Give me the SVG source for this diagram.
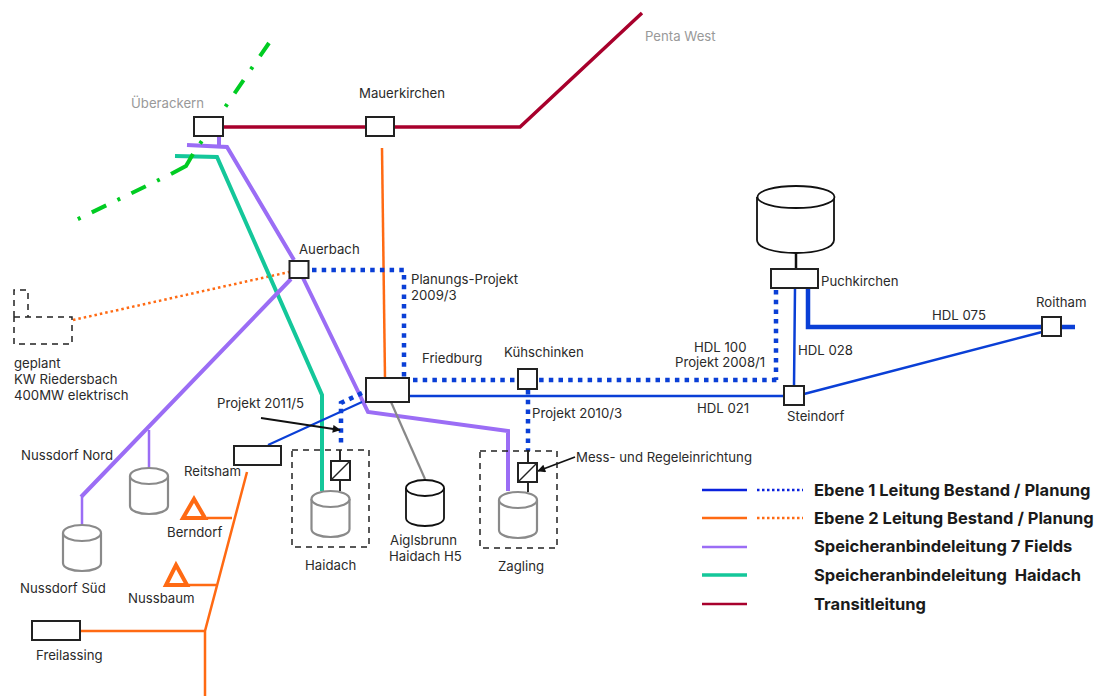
<svg xmlns="http://www.w3.org/2000/svg" width="1097" height="696" viewBox="0 0 1097 696">
<defs>
<style>
text{font-family:Inter,"Liberation Sans",sans-serif;font-size:13.2px;fill:#2a2a2a}
.g{fill:#999}
.leg{font-weight:700;font-size:16.5px;fill:#1a1a1a;white-space:pre}
.box{fill:#fff;stroke:#222;stroke-width:2}
.l{fill:none;stroke-linejoin:miter}
.dash{fill:none;stroke:#222;stroke-width:1.5;stroke-dasharray:6 5}
.blue{stroke:#0a3fd6}
.dot{stroke:#0a3fd6;stroke-width:4.5;stroke-dasharray:4.5 5.2;fill:none}
.org{stroke:#ff6a13}
.pur{stroke:#9b6df5}
.tea{stroke:#14c79a}
.red{stroke:#a8002c}
.cylg{fill:#fff;stroke:#8a8a8a;stroke-width:2.2}
.cylb{fill:#fff;stroke:#111;stroke-width:1.8}
.tri{fill:none;stroke:#ff6a13;stroke-width:4}
.grn{fill:none;stroke:#00cc22;stroke-width:4}
</style>
<marker id="arr" viewBox="0 0 10 10" refX="9" refY="5" markerWidth="10" markerHeight="8" markerUnits="userSpaceOnUse" orient="auto"><path d="M0 0L10 5L0 10z" fill="#111"/></marker>
<g id="cyl"><path d="M-19 8V38C-19 43-10 46 0 46S19 43 19 38V8"/><ellipse cx="0" cy="8" rx="19" ry="8"/></g>
<g id="valve"><rect x="0" y="0" width="19" height="19" fill="#fff" stroke="#222" stroke-width="2"/><path d="M0 19L19 0" stroke="#222" stroke-width="1.5"/></g>
</defs>
<rect width="1097" height="696" fill="#fff"/>
<g id="connectors">
<path class="l red" stroke-width="3.5" d="M224 127H520L642 13"/>
<path class="l org" stroke-width="2.5" d="M382 148L385 378"/>
<path class="dot" d="M312 270H404V378"/>
<path class="l org" stroke-width="2.5" stroke-dasharray="2.5 3" d="M73 320L289 272"/>
<path class="l tea" stroke-width="4" d="M175 156L217 157L322 395V491"/>
<path class="l pur" stroke-width="4" d="M187 145L227 147L294 260M303 278L368 412L508 431V491M219 137V146M291 279L81 497"/>
<path class="l pur" stroke-width="2.5" d="M149 430V470M82 497V525"/>
<path class="grn" stroke-dasharray="16 13 3 13" d="M269 43L193 154"/>
<path class="grn" d="M193 154L186 166L171 174"/>
<path class="grn" stroke-dasharray="16 12.500 3 12.500" stroke-dashoffset="16" d="M171 174L76 220"/>
<path class="l blue" stroke-width="2.500" d="M410 396H784M804 394L1042 332M795 288L794 386"/>
<path class="l blue" stroke-width="2" d="M268 445L362 402"/>
<path class="l blue" stroke-width="4.5" d="M808 289V327H1075"/>
<path class="dot" d="M413 380H778M776 290V380M528 390V451M362 393L341 403V447"/>
<path class="l" stroke="#888" stroke-width="2.2" d="M391 402L425 479"/>
<path class="l org" stroke-width="2.5" d="M247 472L205 631V696M81 631H205M207 518H232M188 585H217"/>
<path class="l" stroke="#111" stroke-width="1.8" d="M340 450V461M340 481V491M528 450V463M528 482V492"/>
<path class="l" stroke="#111" stroke-width="2.5" d="M796 253V269"/>
<path class="l" stroke="#111" stroke-width="1.8" marker-end="url(#arr)" d="M261 418L340 430"/>
<path class="l" stroke="#111" stroke-width="1.8" marker-end="url(#arr)" d="M575 457L538 471"/>
</g>
<g id="node-ueberackern"><rect class="box" x="194" y="117" width="29" height="19"/><text class="g" x="131" y="108">Überackern</text></g>
<g id="node-mauerkirchen"><rect class="box" x="366" y="117" width="28" height="19"/><text x="359" y="98">Mauerkirchen</text></g>
<text id="label-penta" class="g" x="645" y="41">Penta West</text>
<g id="node-auerbach"><rect class="box" x="289.500" y="261" width="19" height="17"/><text x="299" y="254">Auerbach</text></g>
<g id="node-friedburg"><rect class="box" x="366" y="378" width="43" height="24"/><text x="422" y="363">Friedburg</text></g>
<g id="node-kuehschinken"><rect class="box" x="518" y="369" width="19" height="20"/><text x="504" y="357">Kühschinken</text></g>
<g id="node-steindorf"><rect class="box" x="784" y="386" width="20" height="19"/><text x="787" y="421">Steindorf</text></g>
<g id="node-puchkirchen"><path class="cylb" d="M757 197V240C757 248 775 253 796 253S834 248 834 240V197"/><ellipse class="cylb" cx="796" cy="197" rx="38.500" ry="11"/><rect class="box" x="771" y="269" width="47" height="19"/><text x="821" y="286">Puchkirchen</text></g>
<g id="node-roitham"><rect class="box" x="1042" y="317" width="19" height="19"/><text x="1036" y="307">Roitham</text></g>
<g id="node-reitsham"><rect class="box" x="234" y="446" width="47" height="19"/><text x="184" y="476">Reitsham</text></g>
<g id="node-freilassing"><rect class="box" x="32" y="621" width="48" height="19"/><text x="36" y="660">Freilassing</text></g>
<g id="node-riedersbach"><path class="dash" d="M14 317V290H28V317M14 317H72V344H14Z"/><text x="14" y="368">geplant</text><text x="14" y="384">KW Riedersbach</text><text x="14" y="400">400MW elektrisch</text></g>
<g id="node-nussdorf-nord"><use href="#cyl" x="149" y="468" class="cylg"/><text x="21" y="460">Nussdorf Nord</text></g>
<g id="node-nussdorf-sued"><use href="#cyl" x="82" y="525" class="cylg"/><text x="20" y="593">Nussdorf Süd</text></g>
<g id="node-berndorf"><path class="tri" d="M194 499L205 518H183Z"/><text x="167" y="537">Berndorf</text></g>
<g id="node-nussbaum"><path class="tri" d="M176 565L187 585H166Z"/><text x="128" y="603">Nussbaum</text></g>
<g id="node-haidach"><rect class="dash" x="292" y="450" width="77" height="97"/><use href="#valve" x="331" y="461"/><use href="#cyl" x="330.500" y="491" class="cylg"/><text x="305" y="570">Haidach</text></g>
<g id="node-aiglsbrunn"><use href="#cyl" x="425" y="480" class="cylb"/><text x="390" y="545">Aiglsbrunn</text><text x="389" y="561">Haidach H5</text></g>
<g id="node-zagling"><rect class="dash" x="480" y="451" width="77" height="97"/><use href="#valve" x="518" y="463"/><use href="#cyl" x="518" y="492" class="cylg"/><text x="498" y="571">Zagling</text></g>
<g id="labels">
<text x="411" y="284">Planungs-Projekt</text><text x="411" y="300">2009/3</text>
<text x="217" y="408">Projekt 2011/5</text>
<text x="532" y="418">Projekt 2010/3</text>
<text x="576" y="462">Mess- und Regeleinrichtung</text>
<text x="694" y="352">HDL 100</text><text x="675" y="367">Projekt 2008/1</text>
<text x="798" y="355">HDL 028</text>
<text x="697" y="413">HDL 021</text>
<text x="932" y="320">HDL 075</text>
</g>
<g id="legend">
<path class="l" stroke="#0a22dd" stroke-width="2.5" d="M702 490H747"/>
<path class="l" stroke="#0a22dd" stroke-width="2.5" stroke-dasharray="2.5 2.5" d="M757 490H803"/>
<path class="l org" stroke-width="2.5" d="M702 518H747"/>
<path class="l org" stroke-width="2.5" stroke-dasharray="2.5 2.5" d="M757 518H803"/>
<path class="l pur" stroke-width="2.5" d="M702 547H747"/>
<path class="l tea" stroke-width="3.500" d="M702 575H747"/>
<path class="l red" stroke-width="2.5" d="M702 604H747"/>
<text class="leg" x="814" y="496">Ebene 1 Leitung Bestand / Planung</text>
<text class="leg" x="814" y="524">Ebene 2 Leitung Bestand / Planung</text>
<text class="leg" x="814" y="552">Speicheranbindeleitung 7 Fields</text>
<text class="leg" x="814" y="581">Speicheranbindeleitung  Haidach</text>
<text class="leg" x="814" y="610">Transitleitung</text>
</g>
</svg>
